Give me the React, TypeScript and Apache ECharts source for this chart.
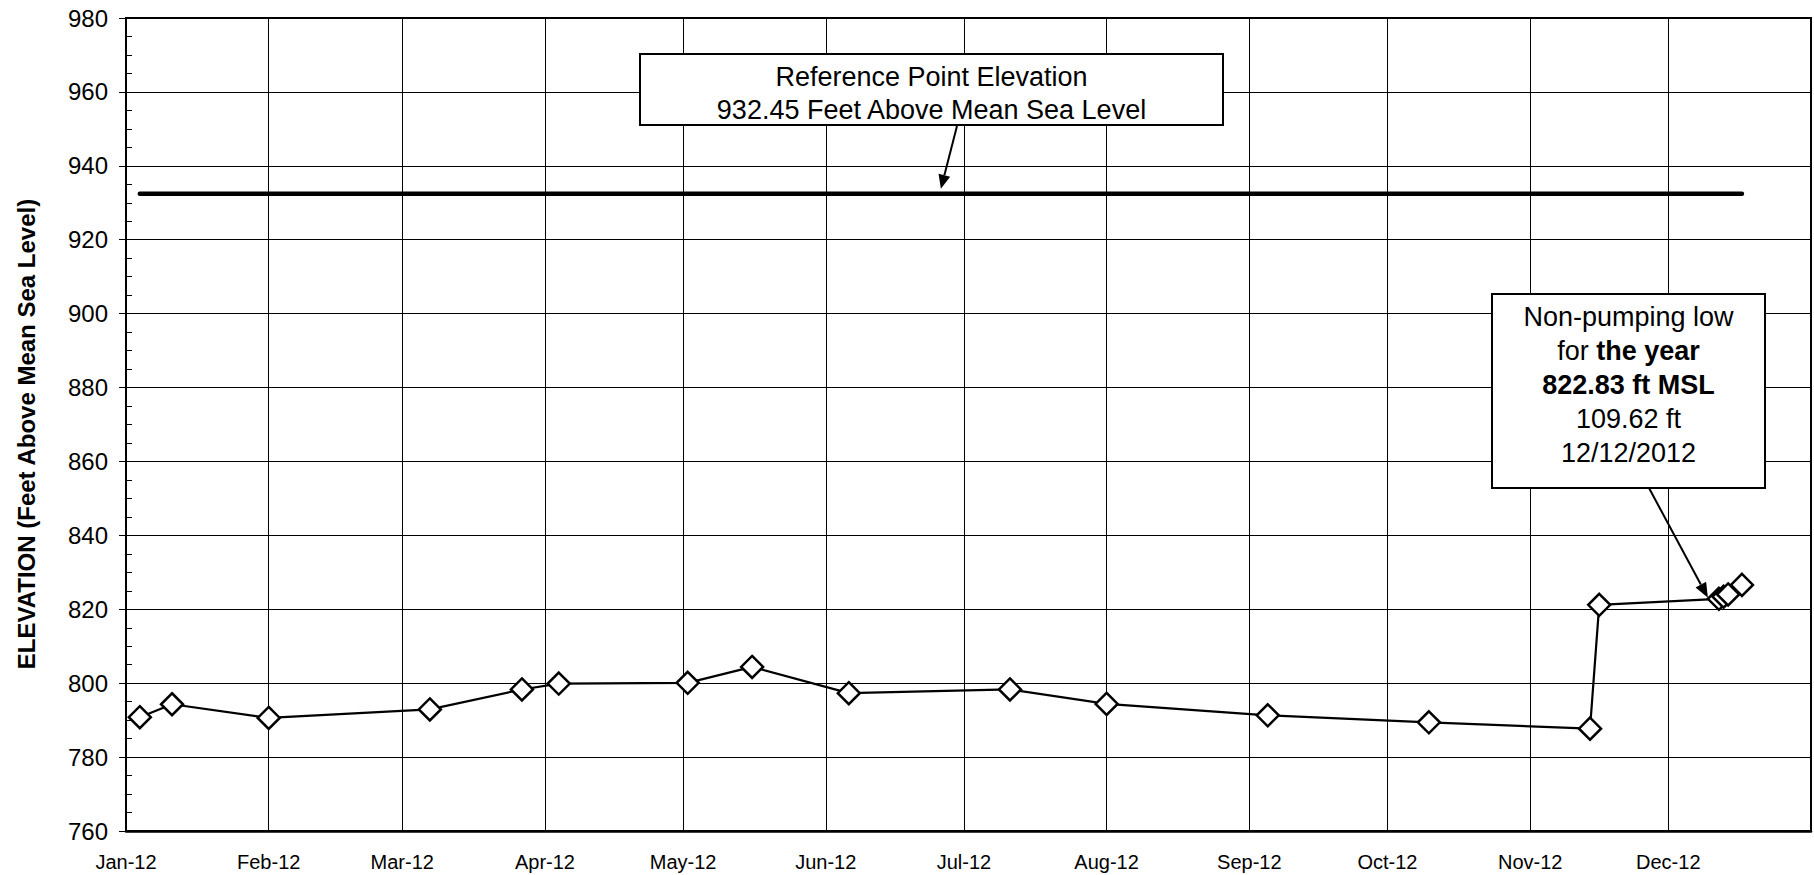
import React, { useEffect, useRef } from 'react';
import * as echarts from 'echarts';

const MONTH_NAMES = ['Jan', 'Feb', 'Mar', 'Apr', 'May', 'Jun', 'Jul', 'Aug', 'Sep', 'Oct', 'Nov', 'Dec'];

const SAMPLE_DATES = [
  '2012-01-04', '2012-01-11', '2012-02-01', '2012-03-07', '2012-03-27', '2012-04-04',
  '2012-05-02', '2012-05-16', '2012-06-06', '2012-07-11', '2012-08-01', '2012-09-05',
  '2012-10-10', '2012-11-14', '2012-11-16', '2012-12-12', '2012-12-13', '2012-12-14',
  '2012-12-17',
];
const ELEVATIONS = [
  790.8, 794.3, 790.6, 792.9, 798.3, 799.9,
  800.1, 804.4, 797.3, 798.3, 794.4, 791.3,
  789.4, 787.7, 821.2, 822.83, 823.4, 824.0,
  826.6,
];

const REFERENCE_ELEVATION = 932.45;
const LOW_DATE = '2012-12-12';
const LOW_VALUE = 822.83;

const X_MIN = '2012-01-01';
const X_MAX = '2013-01-01';
const Y_MIN = 760;
const Y_MAX = 980;
const Y_STEP = 20;

const Y_TITLE = 'ELEVATION (Feet Above Mean Sea Level)';
const REF_BOX_LINES = ['Reference Point Elevation', '932.45 Feet Above Mean Sea Level'];
const LOW_BOX_TEXT = 'Non-pumping low\nfor {b|the year}\n{b|822.83 ft MSL}\n109.62 ft\n12/12/2012';

const FONT = '"Liberation Sans", Arial, Helvetica, sans-serif';

function arrow(sx: number, sy: number, tx: number, ty: number, head: number, half: number) {
  const dx = tx - sx;
  const dy = ty - sy;
  const len = Math.hypot(dx, dy);
  const ux = dx / len;
  const uy = dy / len;
  const bx = tx - ux * head;
  const by = ty - uy * head;
  const nx = -uy;
  const ny = ux;
  return [
    {
      type: 'line',
      z: 20,
      shape: { x1: sx, y1: sy, x2: bx, y2: by },
      style: { stroke: '#000', lineWidth: 2 },
    },
    {
      type: 'polygon',
      z: 20,
      shape: {
        points: [
          [tx, ty],
          [bx + nx * half, by + ny * half],
          [bx - nx * half, by - ny * half],
        ],
      },
      style: { fill: '#000' },
    },
  ];
}

export default function App() {
  const ref = useRef<HTMLDivElement>(null);

  useEffect(() => {
    if (!ref.current) return;
    const chart = echarts.init(ref.current, undefined, { renderer: 'svg' });

    const seriesData = SAMPLE_DATES.map((d, i) => [d, ELEVATIONS[i]]);
    const refData = [
      [SAMPLE_DATES[0], REFERENCE_ELEVATION],
      [SAMPLE_DATES[SAMPLE_DATES.length - 1], REFERENCE_ELEVATION],
    ];

    chart.setOption({
      animation: false,
      backgroundColor: '#fff',
      textStyle: { fontFamily: FONT },
      grid: {
        left: 126,
        top: 18,
        right: 3,
        bottom: 44,
        show: true,
        borderColor: '#000',
        borderWidth: 2,
        containLabel: false,
        outerBoundsMode: 'none',
      },
      xAxis: {
        type: 'time',
        min: X_MIN,
        max: X_MAX,
        splitNumber: 12,
        minInterval: 28 * 24 * 3600 * 1000,
        maxInterval: 31 * 24 * 3600 * 1000,
        axisLine: { show: true, lineStyle: { color: '#000', width: 2.5 } },
        axisTick: { show: false },
        splitLine: { show: true, lineStyle: { color: '#000', width: 1 } },
        axisLabel: {
          color: '#000',
          fontSize: 20,
          fontFamily: FONT,
          margin: 21,
          showMaxLabel: false,
          formatter: (val: number) => {
            const d = new Date(val);
            return MONTH_NAMES[d.getMonth()] + '-' + String(d.getFullYear()).slice(2);
          },
        },
      },
      yAxis: {
        type: 'value',
        min: Y_MIN,
        max: Y_MAX,
        interval: Y_STEP,
        axisLine: { show: true, lineStyle: { color: '#000', width: 2 } },
        axisTick: { show: true, inside: false, length: 7, lineStyle: { color: '#000', width: 1 } },
        minorTick: { show: true, splitNumber: 4, length: -6, lineStyle: { color: '#000', width: 1 } },
        splitLine: { show: true, lineStyle: { color: '#000', width: 1 } },
        axisLabel: { color: '#000', fontSize: 24, fontFamily: FONT, margin: 18 },
      },
      series: [
        {
          name: 'Reference Point Elevation',
          type: 'line',
          data: refData,
          symbol: 'none',
          silent: true,
          z: 2,
          lineStyle: { color: '#000', width: 4.5, cap: 'round' },
        },
        {
          name: 'Elevation',
          type: 'line',
          data: seriesData,
          symbol: 'diamond',
          symbolSize: 22,
          showSymbol: true,
          showAllSymbol: true,
          z: 3,
          itemStyle: { color: '#fff', borderColor: '#000', borderWidth: 2.5 },
          lineStyle: { color: '#000', width: 2.2 },
        },
      ],
    });

    const lowPt = chart.convertToPixel({ gridIndex: 0 }, [new Date(LOW_DATE + 'T00:00:00').getTime(), LOW_VALUE]) as number[];
    const refPt = chart.convertToPixel({ gridIndex: 0 }, [new Date('2012-06-26T00:00:00').getTime(), REFERENCE_ELEVATION]) as number[];

    const graphics: any[] = [
      {
        type: 'text',
        x: 26.5,
        y: 434,
        rotation: Math.PI / 2,
        z: 20,
        style: {
          text: Y_TITLE,
          fill: '#000',
          fontSize: 24,
          fontWeight: 'bold',
          fontFamily: FONT,
          textAlign: 'center',
          textVerticalAlign: 'middle',
        },
      },
      {
        type: 'rect',
        z: 15,
        shape: { x: 640, y: 54, width: 583, height: 71 },
        style: { fill: '#fff', stroke: '#000', lineWidth: 2 },
      },
      {
        type: 'text',
        z: 16,
        x: 931.5,
        y: 77,
        style: {
          text: REF_BOX_LINES[0],
          fill: '#000',
          fontSize: 27,
          fontFamily: FONT,
          textAlign: 'center',
          textVerticalAlign: 'middle',
        },
      },
      {
        type: 'text',
        z: 16,
        x: 931.5,
        y: 110,
        style: {
          text: REF_BOX_LINES[1],
          fill: '#000',
          fontSize: 27,
          fontFamily: FONT,
          textAlign: 'center',
          textVerticalAlign: 'middle',
        },
      },
      {
        type: 'rect',
        z: 15,
        shape: { x: 1492, y: 294, width: 273, height: 194 },
        style: { fill: '#fff', stroke: '#000', lineWidth: 2 },
      },
      {
        type: 'text',
        z: 16,
        x: 1628.5,
        y: 385,
        style: {
          text: LOW_BOX_TEXT,
          fill: '#000',
          fontSize: 27,
          fontFamily: FONT,
          lineHeight: 34,
          textAlign: 'center',
          textVerticalAlign: 'middle',
          rich: {
            b: { fontSize: 27, fontFamily: FONT, fontWeight: 'bold', lineHeight: 34, fill: '#000' },
          },
        },
      },
      ...arrow(957, 126, refPt[0], refPt[1] - 5, 14, 6),
      ...arrow(1649, 488, lowPt[0] - 11, lowPt[1] - 1, 15, 6),
    ];

    chart.setOption({ graphic: graphics });

    return () => {
      chart.dispose();
    };
  }, []);

  return (
    <div
      ref={ref}
      style={{ position: 'absolute', left: 0, top: 0, width: 1814, height: 875, background: '#fff' }}
    />
  );
}
